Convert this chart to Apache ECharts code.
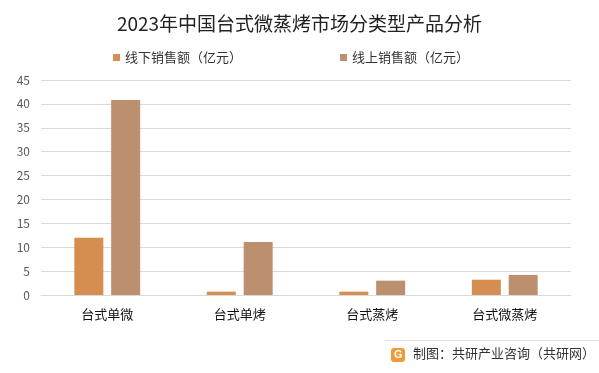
<!DOCTYPE html>
<html><head><meta charset="utf-8">
<script src="https://cdn.jsdelivr.net/npm/echarts@6/dist/echarts.min.js"></script>
<style>html,body{margin:0;padding:0;background:#fff}#c{width:599px;height:373px}</style>
</head><body><div id="c"></div>
<script>
const categories = ['台式单微','台式单烤','台式蒸烤','台式微蒸烤'];
const offline = [12, 0.7, 0.7, 3.2];
const online = [40.8, 11.1, 3.0, 4.2];
const seriesNames = ['线下销售额（亿元）','线上销售额（亿元）'];
const yTicks = {min:0, max:45, interval:5};

const chart = echarts.init(document.getElementById('c'));
const font = '"Noto Sans CJK SC", "Noto Sans", sans-serif';
chart.setOption({
  animation:false,
  title:{text:'2023年中国台式微蒸烤市场分类型产品分析', left:'center', top:9,
    textStyle:{fontFamily:font, fontSize:19, fontWeight:'normal', color:'#222'}},
  legend:{top:46, left:108, itemGap:98, itemWidth:7, itemHeight:7, icon:'rect',
    textStyle:{fontFamily:font, fontSize:13, color:'#333'}},
  grid:{left:41, right:28, top:80, bottom:78},
  xAxis:{type:'category', data:categories,
    axisLine:{lineStyle:{color:'#d9d9d9'}}, axisTick:{show:false},
    axisLabel:{fontFamily:font, fontSize:13, color:'#111', margin:13}},
  yAxis:{type:'value', min:yTicks.min, max:yTicks.max, interval:yTicks.interval,
    axisLabel:{fontFamily:font, fontSize:12, color:'#595959', margin:11},
    splitLine:{lineStyle:{color:'#d9d9d9'}}},
  series:[
    {name:seriesNames[0], type:'bar', data:offline, barWidth:29, barGap:'27%', itemStyle:{color:'#D48E4F'}},
    {name:seriesNames[1], type:'bar', data:online, barWidth:29, itemStyle:{color:'#BC8F6E'}}
  ],
  graphic:[
    {type:'line', shape:{x1:385, y1:340.5, x2:599, y2:340.5}, style:{stroke:'#e0e0e0', lineWidth:1}},
    {type:'rect', shape:{x:391, y:348, width:14, height:14, r:3}, style:{fill:'#F09A3A'}},
    {type:'text', style:{x:394, y:349, text:'G', fill:'#fff', font:'bold 11px sans-serif'}},
    {type:'text', style:{x:413, y:347, text:'制图：共研产业咨询（共研网）', fill:'#333', font:'13px "Noto Sans CJK SC", sans-serif'}}
  ]
});
</script></body></html>
